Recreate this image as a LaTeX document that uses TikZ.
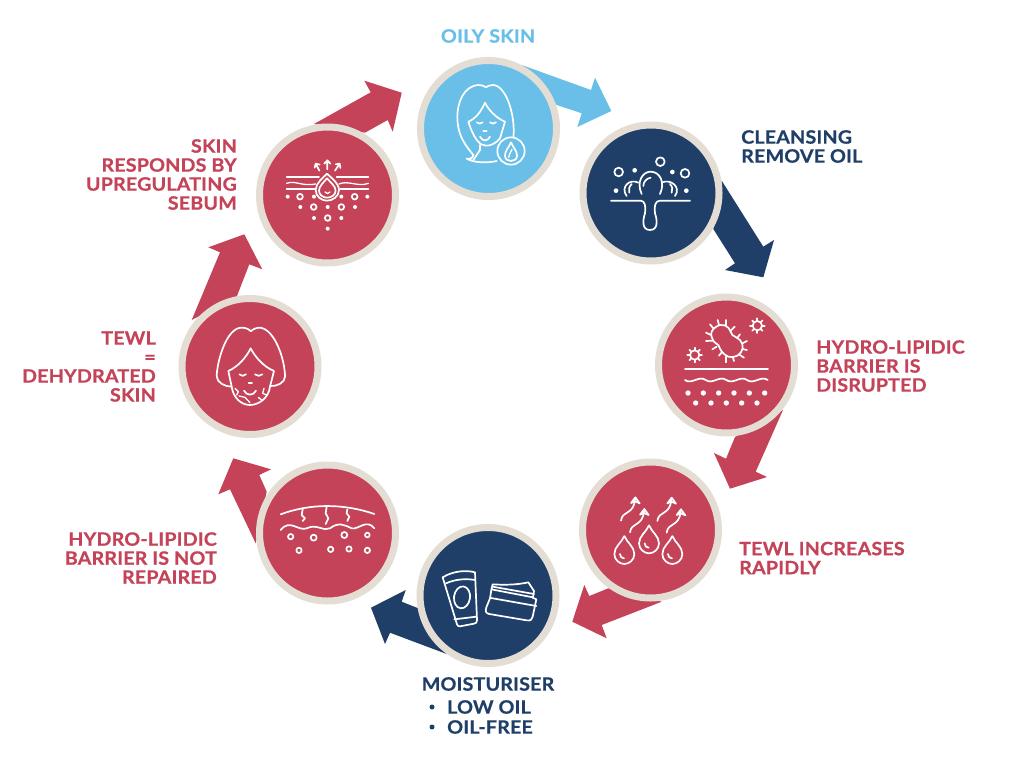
\documentclass[tikz,border=0pt]{standalone}
\usepackage{fontspec}
\setmainfont{Lato}[BoldFeatures={FakeBold=0.6},FakeStretch=1.07,LetterSpace=0.9]
\definecolor{rosered}{HTML}{C44358}
\definecolor{navy}{HTML}{1F3F69}
\definecolor{skyb}{HTML}{69BFE8}
\definecolor{beige}{HTML}{E4DDD4}
\tikzset{
  disc/.style={circle,draw=beige,line width=7pt,minimum size=136pt,inner sep=0pt,outer sep=0pt},
  ico/.style={draw=white,line width=1.7pt,line cap=round,line join=round},
  icothin/.style={draw=white,line width=1.3pt,line cap=round,line join=round},
  dotw/.style={fill=white,draw=none},
  lbl/.style={font=\fontsize{18.4}{19}\selectfont\bfseries,inner sep=0pt},
  zoomed/.style={shift={#1},scale=1/3}
}
\begin{document}
\begin{tikzpicture}[x=1pt,y=-1pt]
\path[use as bounding box,fill=white] (0,0) rectangle (1024,768);
% arrows
\fill[skyb] (521.7,65)--(591,90)--(595,77.7)--(611.3,111)--(577.3,127)--(581.7,113.3)--(556.7,105)--cycle;
\fill[navy] (721.7,180.7)--(763.3,246.7)--(774,240)--(763.3,277.3)--(725,270)--(735,263.3)--(713.3,229)--cycle;
\fill[rosered] (783,410)--(755.7,471.7)--(767,477)--(730,488.7)--(714,453)--(726,458.7)--(735,437)--cycle;
\fill[rosered] (608.3,588.3)--(589.3,596)--(584.3,585)--(572.3,621.7)--(606.7,638.3)--(601.7,625)--(661.7,601.7)--cycle;
\fill[navy] (418.3,608.3)--(401.7,601.7)--(405.7,590)--(371,607.7)--(385,644)--(390,632.7)--(446.7,654)--cycle;
\fill[rosered] (266.7,491.7)--(259.3,475)--(271,469.3)--(233.3,458.3)--(218.3,494.3)--(230,489.3)--(255.7,543.3)--cycle;
\fill[rosered] (191.7,320)--(220,252.3)--(208.3,247.3)--(244.3,234.3)--(262.3,269.3)--(249.3,264.3)--(236.7,296.7)--cycle;
\fill[rosered] (314,124)--(370.7,92.3)--(364.3,80.7)--(401.7,92.7)--(392.7,131.7)--(387.7,120)--(365,132.7)--cycle;
% discs
\node[disc,fill=skyb] (oily) at (488.5,128.5) {};
\node[disc,fill=navy] (cleansing) at (651,193) {};
\node[disc,fill=rosered] (hydro) at (726.5,365) {};
\node[disc,fill=rosered] (tewlup) at (650.5,530) {};
\node[disc,fill=navy] (moist) at (488,595.5) {};
\node[disc,fill=rosered] (notrep) at (327.5,533) {};
\node[disc,fill=rosered] (dehyd) at (250,366.5) {};
\node[disc,fill=rosered] (sebum) at (327.5,195) {};
% icon oily
\begin{scope}[zoomed={(450,80)}]
\draw[ico] (190,172) .. controls (197,110) and (170,18) .. (130,15) .. controls (120,15) and (112,18) .. (108,22) .. controls (102,17) and (95,15) .. (85,15) .. controls (40,18) and (22,70) .. (22,110) .. controls (22,170) and (50,200) .. (70,225) .. controls (68,235) and (60,238) .. (50,236) .. controls (70,248) and (110,250) .. (140,243);
\draw[ico] (55,125) .. controls (80,115) and (95,90) .. (105,68) .. controls (115,90) and (140,115) .. (165,125) -- (150,175) .. controls (135,192) and (122,197) .. (108,197) .. controls (90,197) and (72,178) .. (55,125);
\draw[ico] (90,195) -- (90,210) -- (70,240);
\draw[ico] (80,127) .. controls (85,132) and (93,132) .. (98,127);
\draw[ico] (120,127) .. controls (125,132) and (133,132) .. (138,127);
\draw[ico] (100,152) -- (110,152);
\draw[ico] (90,170) .. controls (97,185) and (113,185) .. (120,170);
\filldraw[ico,fill=skyb] (183,213) circle[radius=41];
\draw[ico] (183,187) .. controls (175,205) and (165,212) .. (165,227) .. controls (165,238) and (174,243) .. (183,243) .. controls (192,243) and (201,238) .. (201,227) .. controls (201,212) and (191,205) .. (183,187);
\draw[icothin] (176,232) .. controls (176,222) and (183,218) .. (186,208);
\end{scope}
% icon cleansing
\begin{scope}[zoomed={(400,50)}]
\draw[ico] (633,452) -- (722,452) .. controls (735,452) and (738,470) .. (735,490) .. controls (728,510) and (725,540) .. (750,540) .. controls (775,540) and (772,510) .. (765,490) .. controls (762,470) and (765,452) .. (780,452) -- (870,452);
\draw[ico] (725,432) .. controls (708,395) and (728,365) .. (752,365) .. controls (778,365) and (797,395) .. (780,432);
\draw[ico] (730,408) .. controls (730,395) and (740,385) .. (752,383);
\draw[ico] (680,438) .. controls (660,410) and (690,385) .. (715,398);
\draw[ico] (695,402) .. controls (687,410) and (685,420) .. (688,428);
\draw[ico] (785,398) .. controls (810,385) and (845,410) .. (825,438);
\draw[ico] (810,402) .. controls (818,410) and (818,420) .. (815,428);
\draw[ico] (781,335) circle[radius=13] (656,366) circle[radius=13] (855,370) circle[radius=13];
\fill[dotw] (704,361) circle[radius=7] (817,366) circle[radius=7] (648,422) circle[radius=7] (859,422) circle[radius=7];
\end{scope}
% icon hydro
\begin{scope}[zoomed={(650,285)}]
\draw[ico] (105,252) -- (354,252);
\draw[ico] (105,285) \foreach \i in {0,1,2,3} {.. controls ({105+\i*62+20},{300}) and ({105+\i*62+42},{270}) .. ({105+(\i+1)*62},{285})};
\foreach \x in {114,160,206,252,298,344} \fill[dotw] (\x,324) circle[radius=8];
\foreach \x in {137,183,229,275,321} \fill[dotw] (\x,354) circle[radius=8];
\draw[ico] plot[smooth cycle,tension=.7] coordinates {(185,140)(210,120)(235,128)(247,150)(270,165)(278,190)(262,212)(235,215)(214,198)(205,180)(190,168)};
\foreach \a/\b/\c/\d in {180/118/190/130, 203/105/207/120, 228/105/228/122, 254/125/243/136, 270/148/262/158, 291/168/277/175, 291/195/277/192, 282/218/268/209, 252/228/248/215, 229/232/229/215, 207/212/216/201, 187/193/200/185, 168/168/187/167, 168/143/183/150}
  \draw[ico] (\a,\b) -- (\c,\d);
\foreach \cx/\cy in {134/210,322/122} {
  \draw[ico] (\cx,\cy) circle[radius=14];
  \foreach \t in {0,45,...,315} \draw[ico] (\cx,\cy) ++(\t:15) -- ++(\t:7);
}
\end{scope}
% icon tewl
\begin{scope}[zoomed={(560,450)}]
\foreach \x/\y in {193/258,267/226,337/258} {
  \draw[ico] (\x,\y) .. controls ({\x-8},{\y+20}) and ({\x-30},{\y+32}) .. ({\x-30},{\y+54}) .. controls ({\x-30},{\y+72}) and ({\x-14},{\y+84}) .. (\x,{\y+84}) .. controls ({\x+14},{\y+84}) and ({\x+30},{\y+72}) .. ({\x+30},{\y+54}) .. controls ({\x+30},{\y+32}) and ({\x+8},{\y+20}) .. (\x,\y);
  \draw[ico] ({\x-13},{\y+54}) .. controls ({\x-13},{\y+62}) and ({\x-8},{\y+67}) .. ({\x-1},{\y+67});
}
\foreach \x/\y in {183/212,210/247,292/213,320/248} {
  \draw[ico] (\x,\y) .. controls ({\x+4},{\y-32}) and ({\x+38},{\y-16}) .. ({\x+42},{\y-64});
  \draw[ico] ({\x+30},{\y-53}) -- ({\x+43},{\y-70}) -- ({\x+56},{\y-52}) -- ({\x+42},{\y-58}) -- cycle;
}
\end{scope}
% icon moisturiser
\begin{scope}[zoomed={(360,520)}]
\draw[ico] (248,172) .. controls (280,152) and (320,150) .. (345,157) -- (351,300) .. controls (351,308) and (348,310) .. (342,311) -- (300,319) .. controls (295,320) and (293,317) .. (291,313) -- cycle;
\draw[ico] (258,190) .. controls (285,178) and (315,175) .. (346,180);
\draw[ico,rotate around={-8:(306,232)}] (306,232) ellipse[x radius=24,y radius=33];
\draw[ico] (283,298) -- (349,290);
\draw[ico] (398,193) .. controls (430,195) and (470,195) .. (505,187) .. controls (512,195) and (515,205) .. (522,213) -- (519,232) -- (394,208) -- cycle;
\draw[ico] (398,200) -- (522,222);
\draw[ico] (393,234) -- (529,258);
\draw[ico] (394,210) -- (390,235) -- (379,262) .. controls (375,275) and (378,280) .. (388,282) -- (500,301) .. controls (512,303) and (517,298) .. (518,290) -- (529,238) -- (518,233);
\end{scope}
% icon not repaired
\begin{scope}[zoomed={(210,450)}]
\draw[ico] (212,193) .. controls (300,160) and (400,160) .. (493,192);
\draw[ico] (212,240) .. controls (240,205) and (265,245) .. (290,235) .. controls (320,220) and (340,245) .. (360,235) .. controls (385,215) and (405,225) .. (425,235) .. controls (445,240) and (470,205) .. (493,235);
\draw[ico] (278,178) -- (275,195) -- (285,205) -- (278,213);
\draw[ico] (350,170) -- (347,190) -- (355,205) -- (347,222);
\draw[ico] (412,178) -- (410,190) -- (418,200) -- (412,213);
\foreach \x/\y/\r in {242/260/8,311/263/9,403/255/9,472/255/7,267/301/8,362/298/8,417/297/8,472/301/8}
  \draw[ico] (\x,\y) circle[radius=\r];
\end{scope}
% icon dehydrated
\begin{scope}[zoomed={(170,290)}]
\draw[ico] (185,290) .. controls (165,290) and (140,278) .. (140,258) .. controls (142,210) and (170,113) .. (215,113) .. controls (228,113) and (238,118) .. (242,124) .. controls (248,118) and (258,113) .. (270,113) .. controls (315,118) and (345,210) .. (345,260) .. controls (345,278) and (320,290) .. (300,288);
\draw[ico] (175,243) .. controls (205,230) and (230,200) .. (242,175) .. controls (255,200) and (280,230) .. (312,243) -- (300,290) .. controls (296,325) and (265,345) .. (240,345) .. controls (215,345) and (190,325) .. (185,290) -- cycle;
\draw[ico] (208,253) .. controls (214,259) and (222,259) .. (228,253);
\draw[ico] (255,253) .. controls (261,259) and (271,259) .. (277,253);
\draw[ico] (236,278) -- (246,278);
\draw[ico] (222,302) .. controls (230,318) and (250,318) .. (258,302);
\draw[icothin] (195,295) -- (205,305) -- (200,315);
\draw[icothin] (207,318) -- (225,322) -- (240,338);
\draw[icothin] (265,322) -- (275,330);
\draw[icothin] (282,295) -- (278,310) -- (290,315);
\end{scope}
% icon sebum
\begin{scope}[zoomed={(245,80)}]
\draw[ico] (125,290) -- (222,290) (275,290) -- (370,290) (125,328) -- (210,328) (285,328) -- (370,328);
\draw[icothin] (125,310) .. controls (150,300) and (170,320) .. (212,312);
\draw[icothin] (282,312) .. controls (310,300) and (340,322) .. (370,310);
\draw[ico] (246,281) .. controls (235,292) and (212,310) .. (212,330) .. controls (212,350) and (230,362) .. (246,362) .. controls (262,362) and (282,350) .. (282,330) .. controls (282,310) and (257,292) .. (246,281);
\draw[ico] (246,295) .. controls (238,305) and (222,318) .. (222,332) .. controls (222,345) and (235,353) .. (246,353) .. controls (258,353) and (272,345) .. (272,332) .. controls (272,318) and (254,305) .. (246,295);
\draw[icothin] (240,336) .. controls (245,342) and (250,342) .. (255,336);
\draw[ico] (247,268) -- (247,241) (238,251) -- (247,241) -- (256,251);
\draw[ico] (223,272) -- (212,251) (209,263) -- (212,251) -- (224,254);
\draw[ico] (270,272) -- (284,251) (272,253) -- (284,251) -- (286,264);
\foreach \x/\y in {128/350,207/350,289/350,367/350,166/381,248/381,330/381,207/414,289/414,248/446}
  \fill[dotw] (\x,\y) circle[radius=6];
\foreach \x/\y in {165/350,329/350,206/381,289/381,248/414}
  \draw[ico] (\x,\y) circle[radius=8.5];
\end{scope}
% labels
\node[lbl,text=skyb,anchor=center] (t1) at (488,36) {OILY SKIN};
\node[lbl,text=navy,align=left,anchor=west] (t2) at (741,146.5) {CLEANSING\\REMOVE OIL};
\node[lbl,text=rosered,align=left,anchor=west] (t3) at (816,366) {HYDRO-LIPIDIC\\BARRIER IS\\DISRUPTED};
\node[lbl,text=rosered,align=left,anchor=west] (t4) at (739,558) {TEWL INCREASES\\RAPIDLY};
\node[lbl,text=navy,anchor=center] (t5) at (488,684) {MOISTURISER};
\node[lbl,text=navy,anchor=west] (t6) at (447,707) {LOW OIL};
\node[lbl,text=navy,anchor=west] (t7) at (447,727) {OIL-FREE};
\fill[navy] (432,707) circle[radius=2.5] (432,727) circle[radius=2.5];
\node[lbl,text=rosered,align=right,anchor=east] (t8) at (217,558) {HYDRO-LIPIDIC\\BARRIER IS NOT\\REPAIRED};
\node[lbl,text=rosered,align=right,anchor=east] (t9) at (156,366.5) {TEWL\\=\\DEHYDRATED\\SKIN};
\node[lbl,text=rosered,align=right,anchor=east] (t10) at (237,174.5) {SKIN\\RESPONDS BY\\UPREGULATING\\SEBUM};
\end{tikzpicture}
\end{document}
